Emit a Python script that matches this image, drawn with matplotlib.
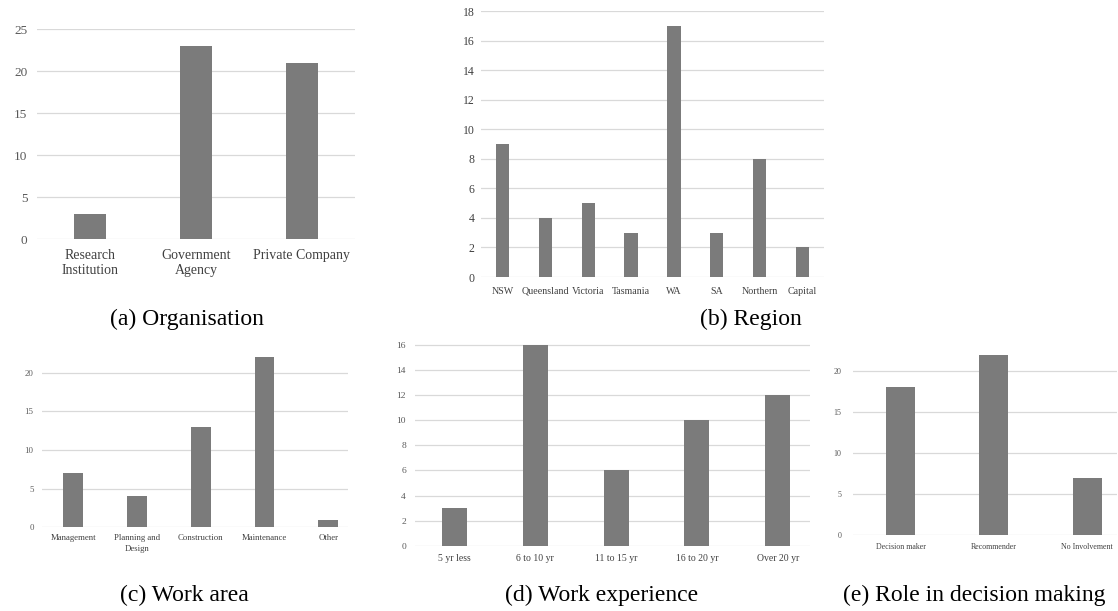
import matplotlib
matplotlib.use("Agg")
import matplotlib.pyplot as plt
import numpy as np

# Survey respondent profile
org_labels = ["Research\nInstitution", "Government\nAgency", "Private Company"]
org_counts = [3, 23, 21]

region_labels = ["NSW", "Queensland", "Victoria", "Tasmania", "WA", "SA", "Northern", "Capital"]
region_counts = [9, 4, 5, 3, 17, 3, 8, 2]

area_labels = ["Management", "Planning and\nDesign", "Construction", "Maintenance", "Other"]
area_counts = [7, 4, 13, 22, 1]

exp_labels = ["5 yr less", "6 to 10 yr", "11 to 15 yr", "16 to 20 yr", "Over 20 yr"]
exp_counts = [3, 16, 6, 10, 12]

role_labels = ["Decision maker", "Recommender", "No Involvement"]
role_counts = [18, 22, 7]

W, H = 1118, 611
plt.rcParams["font.family"] = ["Liberation Serif", "DejaVu Serif"]

fig = plt.figure(figsize=(W / 100, H / 100), dpi=100)
fig.patch.set_facecolor("white")

BAR = "#7b7b7b"
GRID = "#d9d9d9"


def px_axes(left, right, top, bottom):
    return fig.add_axes([left / W, 1 - bottom / H, (right - left) / W, (bottom - top) / H])


def panel(box, labels, counts, ylim, yticks, xlim, tick_fs, cat_fs, ypad, xpad,
          tick_color="#595959", cat_color="#404040", width=0.31, linespacing=1.0):
    ax = px_axes(*box)
    x = np.arange(len(labels))
    ax.bar(x, counts, width=width, color=BAR, zorder=3)
    ax.set_xlim(*xlim)
    ax.set_ylim(*ylim)
    ax.set_yticks(yticks)
    ax.set_xticks(x)
    ax.set_xticklabels(labels, fontsize=cat_fs, color=cat_color, linespacing=linespacing)
    ax.tick_params(axis="y", length=0, pad=ypad, labelsize=tick_fs, labelcolor=tick_color)
    ax.tick_params(axis="x", length=0, pad=xpad)
    for s in ax.spines.values():
        s.set_visible(False)
    for t in yticks:
        ax.axhline(t, color=GRID, lw=0.9, zorder=1)
    ax.set_facecolor("none")
    return ax


# (a) Organisation
panel((37, 355, 29, 239), org_labels, org_counts, (0, 25), [0, 5, 10, 15, 20, 25],
      (-0.5, 2.5), 9.5, 10, 7, 7, linespacing=1.2)
# (b) Region
panel((481, 824, 11, 277), region_labels, region_counts, (0, 18), list(range(0, 19, 2)),
      (-0.5, 7.5), 8.5, 7.2, 4.8, 7, tick_color="#404040")
# (c) Work area
panel((42, 348, 349.5, 527.3), area_labels, area_counts, (0, 23), [0, 5, 10, 15, 20],
      (-0.49, 4.31), 6.3, 6.3, 6, 5, linespacing=1.4)
# (d) Work experience
panel((415, 810, 341.3, 545.7), exp_labels, exp_counts, (0, 16.3), list(range(0, 17, 2)),
      (-0.49, 4.40), 6.8, 7, 6.5, 6)
# (e) Role in decision making
panel((853, 1117, 346.4, 535), role_labels, role_counts, (0, 23), [0, 5, 10, 15, 20],
      (-0.51, 2.32), 5.8, 5.7, 8.5, 6)

captions = [("(a) Organisation", 187, 325), ("(b) Region", 751, 325),
            ("(c) Work area", 184, 601), ("(d) Work experience", 602, 601),
            ("(e) Role in decision making", 974, 601)]
for txt, cx, by in captions:
    fig.text(cx / W, 1 - by / H, txt, ha="center", va="baseline", fontsize=17, color="black")

fig.savefig("out.png", dpi=100, facecolor="white")
